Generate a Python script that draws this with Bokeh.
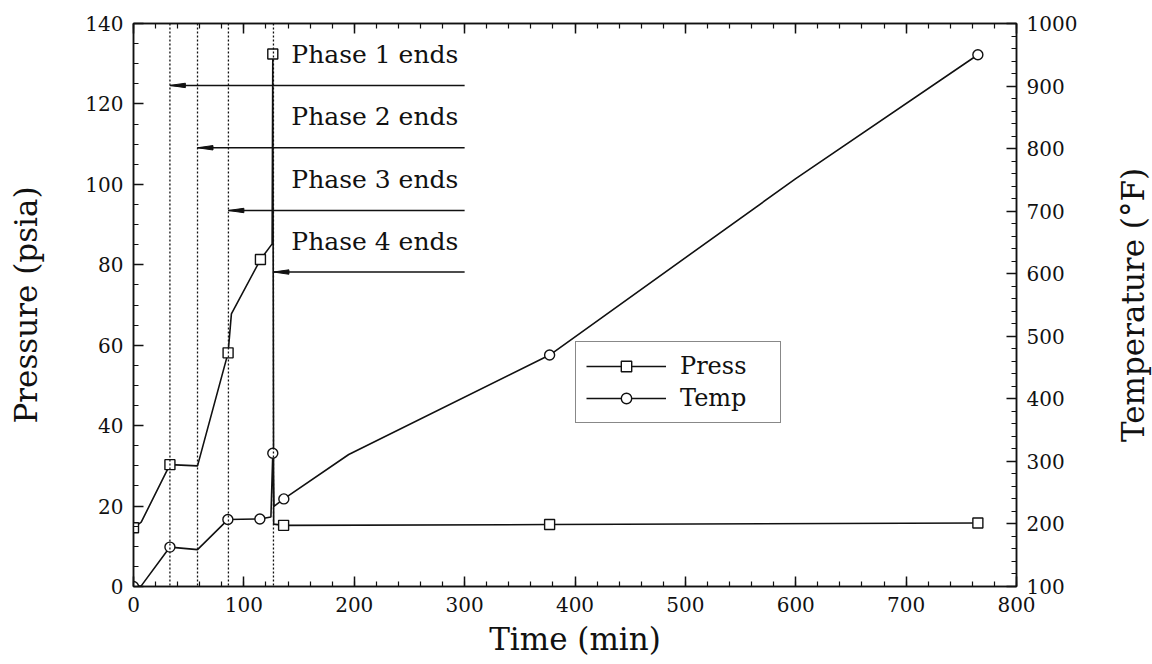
import math
from bokeh.plotting import figure
from bokeh.layouts import row
from bokeh.models import (Range1d, LinearAxis, SingleIntervalTicker, Legend,
                          LegendItem, Span, Title, CustomLabelingPolicy)
from bokeh.embed import file_html
from bokeh.resources import INLINE
from bokeh.core.properties import value

# ---------------- data ----------------
# pressure trace (psia) vs time (min)
press_t = [0, 7, 33, 58, 85.7, 88.7, 115, 125.6, 126.2, 127, 136, 377, 765]
press_p = [14.6, 16.0, 30.3, 30.0, 58.1, 67.8, 81.3, 85.2, 132.4, 15.5, 15.2, 15.4, 15.8]
# pressure points carrying a square symbol
press_mark_t = [0, 33, 85.7, 115, 126.2, 136, 377, 765]
press_mark_p = [14.6, 30.3, 58.1, 81.3, 132.4, 15.2, 15.4, 15.8]

# temperature trace (deg F) vs time (min)
temp_t = [0, 7, 33, 58, 85.5, 114.5, 124.5, 126.2, 127.2, 136.2, 195, 377, 600, 765]
temp_f = [100, 101, 163, 159, 207, 208, 211, 313, 228, 240, 311, 470, 752, 950]
# temperature points carrying a circle symbol
temp_mark_t = [0, 33, 85.5, 114.5, 126.2, 136.2, 377, 765]
temp_mark_f = [100, 163, 207, 208, 313, 240, 470, 950]

# phase end markers
phase_labels = ["Phase 1 ends", "Phase 2 ends", "Phase 3 ends", "Phase 4 ends"]
phase_end_t = [33, 58, 86, 126.8]           # dotted vertical lines (min)
phase_arrow_p = [124.6, 109.1, 93.5, 78.2]  # arrow levels (psia)
phase_arrow_tail_t = 300
phase_label_t = 143

x_ticks_major = 100
y_ticks_major = 20
t_ticks_major = 100

x_title = "Time (min)"
y_title = "Pressure (psia)"
y2_title = "Temperature (°F)"

# ---------------- styling ----------------
FONT = "DejaVu Serif"
BLACK = "#111111"
H = 664
W_MAIN, W_SIDE = 1112, 40
BL, BR, BT, BB = 133, 96, 23, 78

p = figure(width=W_MAIN, height=H, x_range=Range1d(0, 800), y_range=Range1d(0, 140),
           output_backend="svg", toolbar_location=None,
           min_border_left=BL, min_border_right=BR, min_border_top=BT, min_border_bottom=BB)
p.extra_y_ranges = {"temp": Range1d(100, 1000)}
p.grid.visible = False
p.outline_line_color = BLACK
p.outline_line_width = 1.5
p.background_fill_color = "white"
p.border_fill_color = "white"


def style_axis(ax, ticker):
    ax.ticker = ticker
    ax.axis_line_color = BLACK
    ax.axis_line_width = 1.5
    ax.major_tick_line_color = BLACK
    ax.minor_tick_line_color = BLACK
    ax.major_tick_line_width = 1.5
    ax.minor_tick_line_width = 1.2
    ax.major_tick_in = 10
    ax.major_tick_out = 0
    ax.minor_tick_in = 5
    ax.minor_tick_out = 0
    ax.major_label_text_font = FONT
    ax.major_label_text_font_size = "20px"
    ax.major_label_text_color = BLACK
    ax.major_label_standoff = 10
    ax.axis_label_text_font = FONT
    ax.axis_label_text_font_size = "31px"
    ax.axis_label_text_font_style = "normal"
    ax.axis_label_text_color = BLACK


xax = p.xaxis[0]
style_axis(xax, SingleIntervalTicker(interval=x_ticks_major, num_minor_ticks=5))
xax.axis_label = x_title
xax.axis_label_standoff = 6

yax = p.yaxis[0]
style_axis(yax, SingleIntervalTicker(interval=y_ticks_major, num_minor_ticks=4))
yax.axis_label = y_title
yax.axis_label_standoff = 38

rax = LinearAxis(y_range_name="temp")
style_axis(rax, SingleIntervalTicker(interval=t_ticks_major, num_minor_ticks=5))
p.add_layout(rax, "right")

# top axis: ticks only, no labels
tax = LinearAxis()
style_axis(tax, SingleIntervalTicker(interval=x_ticks_major, num_minor_ticks=5))
tax.major_label_policy = CustomLabelingPolicy(code="return new Set()")
tax.major_label_standoff = 0
p.add_layout(tax, "above")

# dotted phase lines
for t in phase_end_t:
    p.add_layout(Span(location=t, dimension="height", line_color=BLACK,
                      line_width=1.3, line_dash="2 2"))

# arrows
p.segment(x0=phase_end_t, y0=phase_arrow_p,
          x1=[phase_arrow_tail_t] * len(phase_end_t), y1=phase_arrow_p,
          line_color=BLACK, line_width=1.6)
head_len = 14.0
head_half = 0.55
p.patches(xs=[[t, t + head_len, t + head_len] for t in phase_end_t],
          ys=[[y, y + head_half, y - head_half] for y in phase_arrow_p],
          fill_color=BLACK, line_color=BLACK, line_width=1)

p.text(x=[phase_label_t] * len(phase_labels), y=[y + 7.7 for y in phase_arrow_p],
       text=phase_labels, text_baseline="middle", text_align="left",
       text_font=value(FONT), text_font_size="25px", text_color=BLACK)

# series
pl = p.line(press_t, press_p, line_color=BLACK, line_width=1.6)
ps = p.scatter(press_mark_t, press_mark_p, marker="square", size=10,
               fill_color="white", line_color=BLACK, line_width=1.4)
tl = p.line(temp_t, temp_f, y_range_name="temp", line_color=BLACK, line_width=1.6)
ts = p.scatter(temp_mark_t, temp_mark_f, y_range_name="temp", marker="circle", size=10,
               fill_color="white", line_color=BLACK, line_width=1.4)

legend = Legend(items=[LegendItem(label="Press", renderers=[pl, ps]),
                       LegendItem(label="Temp", renderers=[tl, ts])],
                location=(442, 163))
legend.label_text_font = FONT
legend.label_text_font_size = "24px"
legend.label_text_color = BLACK
legend.glyph_width = 80
legend.glyph_height = 26
legend.label_height = 26
legend.label_width = 90
legend.label_standoff = 14
legend.spacing = 4
legend.padding = 10
legend.margin = 0
legend.border_line_color = BLACK
legend.border_line_width = 1.5
legend.background_fill_alpha = 1
p.add_layout(legend, "center")

# side strip holding the right-hand axis title, reading bottom-to-top
side = figure(width=W_SIDE, height=H, output_backend="svg", toolbar_location=None,
              x_axis_type=None, y_axis_type=None, x_range=Range1d(0, 1), y_range=Range1d(0, 1),
              min_border_left=0, min_border_right=0, min_border_top=BT, min_border_bottom=BB)
side.grid.visible = False
side.outline_line_color = None
side.background_fill_color = "white"
side.border_fill_color = "white"
side.add_layout(Title(text=y2_title, align="center", text_font=FONT,
                      text_font_size="31px", text_font_style="normal",
                      text_color=BLACK, standoff=0, offset=0), "left")

layout = row(p, side, spacing=0)
open("out.html", "w").write(file_html(layout, INLINE))
